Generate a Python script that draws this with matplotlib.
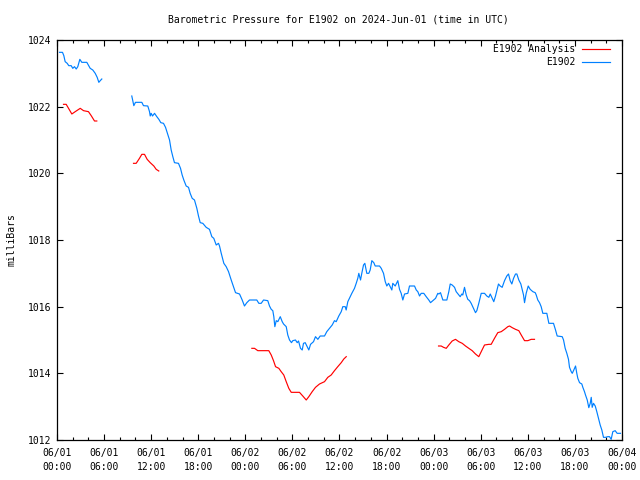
"""
Barometric pressure for buoy E1902, 2024-06-01 .. 06-04 (UTC).
Observed series (blue) vs analysis (red), gnuplot-like look.
"""
import numpy as np
import pandas as pd
import matplotlib
matplotlib.use('Agg')
import matplotlib.pyplot as plt
import matplotlib.dates as mdates

nan = np.nan
START = pd.Timestamp('2024-06-01 00:00')

# observed pressure: hours since start, millibars (NaN = gap in record)
obs_hours = [
    0.32, 0.70, 0.87, 1.04, 1.30, 1.50, 1.81, 2.01, 2.23, 2.45, 2.65, 2.91,
    3.16, 3.80, 4.23, 4.56, 4.87, 5.12, 5.33, 5.51, 5.71, 7.5,
    9.53, 9.79, 10.00, 10.81, 11.02, 11.57, 11.79, 11.88, 12.00, 12.17,
    12.43, 12.72, 12.98, 13.23, 13.57, 13.83, 14.04, 14.34, 14.55, 14.76,
    14.97, 15.48, 15.74, 15.95, 16.16, 16.46, 16.76, 16.97, 17.23, 17.52,
    17.82, 18.03, 18.25, 18.58, 19.01, 19.43, 19.73, 19.98, 20.29, 20.58,
    20.71, 20.93, 21.26, 21.56, 21.86, 22.20, 22.49, 22.75, 23.26, 23.60,
    23.89, 24.19, 24.53, 25.46, 25.72, 26.02, 26.32, 26.86, 27.08, 27.30,
    27.50, 27.63, 27.76, 27.94, 28.14, 28.45, 28.70, 28.87, 29.21, 29.41,
    29.63, 29.88, 30.05, 30.39, 30.61, 30.78, 31.03, 31.25, 31.41, 31.63,
    31.88, 32.09, 32.31, 32.69, 32.94, 33.24, 33.54, 34.09, 34.38, 34.73,
    35.07, 35.36, 35.58, 35.91, 36.22, 36.42, 36.73, 36.85, 37.06, 37.37,
    37.57, 37.91, 38.13, 38.33, 38.46, 38.68, 38.84, 39.06, 39.23, 39.48,
    39.74, 39.91, 40.12, 40.37, 40.55, 41.10, 41.32, 41.61, 41.83, 42.03,
    42.25, 42.46, 42.67, 42.79, 43.10, 43.43, 43.65, 43.86, 44.07, 44.29,
    44.71, 44.92, 45.56, 45.78, 45.98, 46.20, 46.41, 46.74, 47.05, 47.38,
    47.60, 47.89, 48.24, 48.53, 48.66, 48.87, 49.17, 49.68, 49.93, 50.11,
    50.36, 50.66, 50.87, 51.20, 51.38, 51.59, 51.71, 51.93, 52.15, 52.35,
    52.57, 52.78, 53.08, 53.33, 53.50, 53.75, 54.06, 54.48, 54.77, 55.03,
    55.21, 55.46, 55.66, 55.88, 56.05, 56.26, 56.48, 56.73, 57.03, 57.32,
    57.54, 57.75, 57.96, 58.18, 58.43, 58.60, 58.85, 59.11, 59.28, 59.45,
    59.58, 59.79, 60.05, 60.30, 60.64, 60.94, 61.07, 61.27, 61.49, 61.70,
    61.91, 62.42, 62.68, 63.27, 63.53, 63.74, 64.38, 64.55, 64.76, 64.97,
    65.18, 65.31, 65.53, 65.66, 65.86, 66.08, 66.24, 66.37, 66.59, 66.88,
    67.01, 67.22, 67.35, 67.57, 67.77, 67.95, 68.08, 68.20, 68.37, 68.59,
    68.79, 69.01, 69.22, 69.43, 69.64, 69.90, 70.19, 70.41, 70.62, 70.83,
    71.13, 71.38, 71.81,
]
obs_mb = [
    1023.63, 1023.63, 1023.53, 1023.35, 1023.30, 1023.23, 1023.23, 1023.15,
    1023.20, 1023.13, 1023.20, 1023.42, 1023.33, 1023.33, 1023.15, 1023.10,
    1023.00, 1022.88, 1022.73, 1022.78, 1022.83, nan,
    1022.32, 1022.03, 1022.13, 1022.13, 1022.03, 1022.02, 1021.85, 1021.72,
    1021.80, 1021.72, 1021.80, 1021.70, 1021.62, 1021.52, 1021.50, 1021.38,
    1021.22, 1021.00, 1020.70, 1020.50, 1020.32, 1020.30, 1020.15, 1019.95,
    1019.80, 1019.62, 1019.58, 1019.40, 1019.25, 1019.20, 1018.95, 1018.72,
    1018.52, 1018.50, 1018.38, 1018.32, 1018.10, 1018.05, 1017.85, 1017.90,
    1017.82, 1017.60, 1017.30, 1017.20, 1017.05, 1016.80, 1016.60, 1016.42,
    1016.38, 1016.20, 1016.02, 1016.12, 1016.20, 1016.20, 1016.10, 1016.10,
    1016.20, 1016.18, 1016.02, 1015.92, 1015.88, 1015.70, 1015.40, 1015.58,
    1015.55, 1015.70, 1015.55, 1015.48, 1015.40, 1015.15, 1015.00, 1014.92,
    1014.98, 1015.00, 1014.92, 1014.97, 1014.75, 1014.70, 1014.90, 1014.92,
    1014.80, 1014.70, 1014.87, 1014.95, 1015.10, 1015.02, 1015.12, 1015.12,
    1015.25, 1015.35, 1015.45, 1015.58, 1015.55, 1015.72, 1015.85, 1016.00,
    1016.00, 1015.90, 1016.15, 1016.30, 1016.40, 1016.55, 1016.70, 1016.85,
    1017.00, 1016.80, 1017.00, 1017.25, 1017.30, 1017.00, 1017.00, 1017.10,
    1017.38, 1017.32, 1017.22, 1017.22, 1017.15, 1017.00, 1016.75, 1016.62,
    1016.70, 1016.60, 1016.50, 1016.70, 1016.62, 1016.78, 1016.52, 1016.40,
    1016.20, 1016.38, 1016.40, 1016.62, 1016.62, 1016.50, 1016.45, 1016.32,
    1016.40, 1016.40, 1016.30, 1016.20, 1016.12, 1016.18, 1016.25, 1016.40,
    1016.38, 1016.42, 1016.20, 1016.20, 1016.45, 1016.68, 1016.65, 1016.58,
    1016.45, 1016.35, 1016.30, 1016.38, 1016.35, 1016.58, 1016.35, 1016.22,
    1016.18, 1016.10, 1015.95, 1015.82, 1015.88, 1016.10, 1016.40, 1016.40,
    1016.32, 1016.28, 1016.38, 1016.25, 1016.15, 1016.32, 1016.48, 1016.68,
    1016.62, 1016.58, 1016.78, 1016.92, 1016.98, 1016.78, 1016.68, 1016.85,
    1016.98, 1016.98, 1016.80, 1016.68, 1016.52, 1016.35, 1016.12, 1016.40,
    1016.62, 1016.52, 1016.45, 1016.42, 1016.35, 1016.20, 1016.12, 1016.00,
    1015.80, 1015.80, 1015.50, 1015.50, 1015.30, 1015.12, 1015.10, 1015.00,
    1014.75, 1014.60, 1014.42, 1014.18, 1014.05, 1014.00, 1014.10, 1014.22,
    1014.00, 1013.85, 1013.72, 1013.68, 1013.58, 1013.45, 1013.35, 1013.20,
    1012.97, 1013.10, 1013.28, 1012.98, 1013.10, 1013.02, 1012.85, 1012.65,
    1012.45, 1012.30, 1012.08, 1012.08, 1012.10, 1012.10, 1012.02, 1012.25,
    1012.28, 1012.20, 1012.20,
]

# analysis pressure (four short runs)
ana_hours = [
    0.83, 1.17, 1.47, 1.89, 2.32, 2.96, 3.38, 4.01, 4.36, 4.78, 5.07, 7.0,
    9.75, 10.09, 10.51, 10.81, 11.15, 11.49, 11.88, 12.34, 12.64, 12.97, 18.0,
    24.83, 25.17, 25.59, 26.32, 26.99, 27.30, 27.59, 27.85, 28.27, 28.57,
    28.90, 29.21, 29.54, 29.85, 30.90, 31.32, 31.76, 32.09, 32.52, 32.94,
    33.45, 34.09, 34.51, 34.94, 35.36, 35.78, 36.22, 36.55, 36.86, 42.0,
    48.62, 48.96, 49.26, 49.60, 49.93, 50.36, 50.78, 51.20, 51.64, 52.06,
    52.48, 52.91, 53.33, 53.75, 54.06, 54.48, 55.03, 55.33, 55.75, 56.17,
    56.61, 57.03, 57.45, 57.67, 58.01, 58.43, 58.85, 59.16, 59.58, 60.00,
    60.43, 60.85,
]
ana_mb = [
    1022.07, 1022.07, 1021.95, 1021.78, 1021.85, 1021.95, 1021.88, 1021.85,
    1021.73, 1021.57, 1021.57, nan,
    1020.30, 1020.30, 1020.45, 1020.57, 1020.57, 1020.42, 1020.32, 1020.22,
    1020.12, 1020.07, nan,
    1014.75, 1014.75, 1014.68, 1014.68, 1014.68, 1014.55, 1014.38, 1014.20,
    1014.15, 1014.05, 1013.95, 1013.75, 1013.55, 1013.43, 1013.43, 1013.32,
    1013.20, 1013.30, 1013.45, 1013.58, 1013.68, 1013.75, 1013.88, 1013.95,
    1014.08, 1014.20, 1014.32, 1014.43, 1014.50, nan,
    1014.82, 1014.82, 1014.78, 1014.75, 1014.85, 1014.97, 1015.02, 1014.95,
    1014.90, 1014.82, 1014.75, 1014.68, 1014.58, 1014.50, 1014.65, 1014.85,
    1014.87, 1014.87, 1015.05, 1015.22, 1015.25, 1015.32, 1015.40, 1015.42,
    1015.37, 1015.32, 1015.28, 1015.15, 1014.98, 1014.98, 1015.02, 1015.02,
]

FONT = 'DejaVu Sans Mono'
plt.rcParams['font.family'] = FONT
plt.rcParams['font.size'] = 7

obs_t = START + pd.to_timedelta(obs_hours, unit='h')
ana_t = START + pd.to_timedelta(ana_hours, unit='h')

fig = plt.figure(figsize=(6.4, 4.8), dpi=100)
ax = fig.add_axes([57 / 640, 40 / 480, 565 / 640, 400 / 480])

ax.plot(ana_t, ana_mb, color='#ff0000', lw=0.85, label='E1902 Analysis')
ax.plot(obs_t, obs_mb, color='#0080ff', lw=0.85, label='E1902')

ax.set_xlim(START, START + pd.Timedelta(hours=72))
ax.set_ylim(1012, 1024)
ax.set_yticks(np.arange(1012, 1025, 2))

ax.xaxis.set_major_locator(mdates.HourLocator(byhour=range(0, 24, 6)))
ax.xaxis.set_minor_locator(mdates.HourLocator(byhour=range(0, 24, 2)))
ax.xaxis.set_major_formatter(mdates.DateFormatter('%m/%d\n%H:%M'))
for lbl in ax.get_xticklabels():
    lbl.set_linespacing(1.45)

ax.tick_params(which='both', direction='in', top=True, right=True,
               width=0.8, colors='black')
ax.tick_params(which='major', length=4)
ax.tick_params(which='minor', length=2.3)
ax.tick_params(axis='x', which='major', pad=6)
ax.tick_params(axis='y', which='major', pad=4)
for sp in ax.spines.values():
    sp.set_linewidth(0.9)

ax.set_ylabel('milliBars', labelpad=8)
fig.text(0.5289, 1 - 19 / 480, 'Barometric Pressure for E1902 on 2024-Jun-01 (time in UTC)',
         ha='center', va='center')

handles, labels = ax.get_legend_handles_labels()
ax.legend(handles, labels, loc='upper right', bbox_to_anchor=(0.979, 0.99),
          frameon=False, markerfirst=False, borderaxespad=0, borderpad=0,
          handlelength=2.9, handletextpad=0.7, labelspacing=0.35)

fig.savefig('out.png', dpi=100)
